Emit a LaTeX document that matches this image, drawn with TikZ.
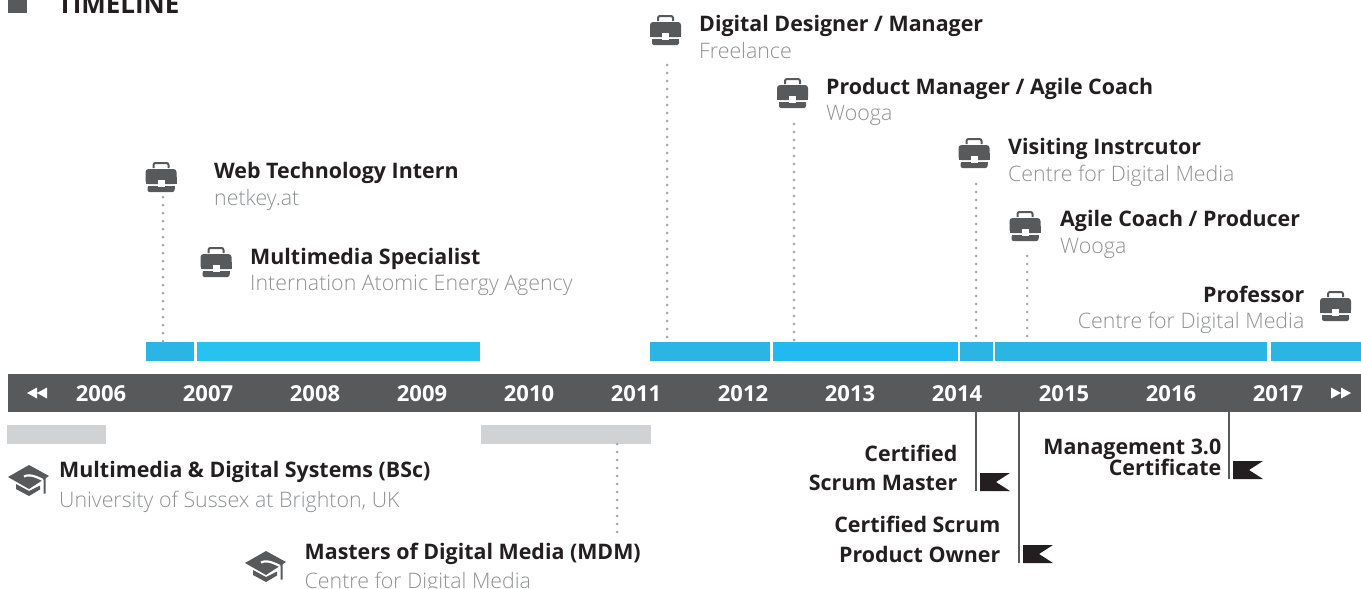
\documentclass[tikz,border=0pt]{standalone}
\usepackage{fontspec}
\setmainfont{Open Sans}
\newfontfamily\lightface{Open Sans Light}
\definecolor{ink}{HTML}{231F20}
\definecolor{slate}{HTML}{58595B}
\definecolor{soft}{HTML}{A7A9AC}
\definecolor{pale}{HTML}{D1D2D4}
\definecolor{blueA}{HTML}{2BB5E5}
\definecolor{blueB}{HTML}{27C3EE}
\definecolor{blueC}{HTML}{22B8F0}
\tikzset{
  x=1pt,y=-1pt,
  head/.style={inner sep=0pt,font=\fontsize{21.4}{21.4}\selectfont\bfseries,text=ink},
  sub/.style={inner sep=0pt,font=\fontsize{21.35}{21.35}\selectfont\lightface,text=soft!85!black},
  yearlabel/.style={inner sep=0pt,anchor=base,font=\fontsize{22}{22}\selectfont\bfseries,text=white},
  span/.style={inner sep=0pt,outer sep=0pt,minimum height=19pt,fill=#1},
  dotline/.style={soft,line width=3pt,line cap=round,dash pattern=on 0pt off 8pt},
  flagline/.style={slate,line width=1.6pt},
  case/.pic={
    \draw[slate,line width=2pt,rounded corners=2pt] (-7.5,-9) -- (-7.5,-14) -- (7.5,-14) -- (7.5,-9);
    \fill[slate,rounded corners=3pt] (-15.5,-8) rectangle (15.5,7);
    \fill[slate] (-15.5,0) rectangle (15.5,7);
    \fill[slate,rounded corners=2pt] (-13.5,9) rectangle (13.5,15);
    \fill[slate] (-13.5,9) rectangle (13.5,12);
    \fill[white] (-3.5,3) rectangle (3.5,10);
  },
  gradcap/.pic={
    \fill[slate] (-21,-3) -- (0,-15) -- (20,-4) -- (0,9) -- cycle;
    \draw[white,line width=2.2pt] (-5,-3.5) .. controls (-1,-6) and (5,-4.5) .. (14,0);
    \fill[slate] (-13,4) -- (0,11) -- (11,5.5) -- (11,9.5) -- (0,16) -- (-13,9) -- cycle;
    \fill[slate] (14.5,-1.5) -- (16.5,-2.5) -- (16.5,13.5) -- (14.5,13.5) -- cycle;
  },
  pennant/.pic={
    \fill[ink] (0,0) -- (30,0) -- (16,9) -- (30,18) -- (0,18) -- cycle;
  },
}
\begin{document}
\begin{tikzpicture}
\useasboundingbox (0,0) rectangle (1361,589);
% heading
\fill[slate] (8,0) rectangle (27,13);
\node[head,anchor=base west,font=\fontsize{26}{26}\selectfont\bfseries] (title) at (57.5,13) {TIMELINE};
% timeline
\node[fill=slate,inner sep=0pt,outer sep=0pt,minimum width=1353pt,minimum height=38pt] (axis) at (684.5,393) {};
\foreach \yr/\xx in {2006/101,2007/208,2008/315,2009/422,2010/529,2011/636,2012/743,2013/850,2014/957,2015/1064,2016/1171,2017/1278}
  \node[yearlabel] (y\yr) at (\xx,401) {\yr};
\fill[white] (27,393) -- (37,387.5) -- (37,398.5) -- cycle (37,393) -- (47,387.5) -- (47,398.5) -- cycle;
\fill[white] (1351,393) -- (1341,387.5) -- (1341,398.5) -- cycle (1341,393) -- (1331,387.5) -- (1331,398.5) -- cycle;
% spans
\node[span=blueA,minimum width=48pt]  (b1) at (170,351.5) {};
\node[span=blueB,minimum width=283pt] (b2) at (338.5,351.5) {};
\node[span=blueA,minimum width=120pt] (b3) at (710,351.5) {};
\node[span=blueC,minimum width=185pt] (b4) at (865.5,351.5) {};
\node[span=blueA,minimum width=33pt]  (b5) at (976.5,351.5) {};
\node[span=blueA,minimum width=272pt] (b6) at (1131,351.5) {};
\node[span=blueA,minimum width=90pt]  (b7) at (1316,351.5) {};
\node[span=pale,minimum width=99pt]  (g1) at (56.5,434.5) {};
\node[span=pale,minimum width=170pt] (g2) at (566,434.5) {};
% dotted connectors
\coordinate (d1) at (163,197);
\coordinate (d3) at (667,65);
\coordinate (d4) at (794,124);
\coordinate (d5) at (976,184);
\coordinate (d6) at (1027,256);
\coordinate (d7) at (617,532);
\draw[dotline] (d1) -- (d1 |- b1.north);
\draw[dotline] (d3) -- (d3 |- b3.north);
\draw[dotline] (d4) -- (d4 |- b4.north);
\draw[dotline] (d5) -- (d5 |- b5.north);
\draw[dotline] (d6) -- (d6 |- b6.north);
\draw[dotline] (d7) -- (d7 |- g2.south);
% icons
\pic at (161,177) {case};
\pic at (216,262) {case};
\pic at (665.5,30) {case};
\pic at (792.5,93) {case};
\pic at (974,153) {case};
\pic at (1025,226) {case};
\pic at (1335.5,306) {case};
\pic at (29,480) {gradcap};
\pic at (266,566) {gradcap};
% job labels
\node[head,anchor=base west] (t1) at (214,178) {Web Technology Intern};
\node[sub,anchor=base west]  (s1) at (214,205) {netkey.at};
\node[head,anchor=base west] (t2) at (250,264) {Multimedia Specialist};
\node[sub,anchor=base west]  (s2) at (250,290) {Internation Atomic Energy Agency};
\node[head,anchor=base west] (t3) at (699,31) {Digital Designer / Manager};
\node[sub,anchor=base west]  (s3) at (699,58) {Freelance};
\node[head,anchor=base west] (t4) at (826,94) {Product Manager / Agile Coach};
\node[sub,anchor=base west]  (s4) at (826,120) {Wooga};
\node[head,anchor=base west] (t5) at (1008,154) {Visiting Instrcutor};
\node[sub,anchor=base west]  (s5) at (1008,181) {Centre for Digital Media};
\node[head,anchor=base west] (t6) at (1060,226) {Agile Coach / Producer};
\node[sub,anchor=base west]  (s6) at (1060,253) {Wooga};
\node[head,anchor=base east] (t7) at (1304.5,302) {Professor};
\node[sub,anchor=base east]  (s7) at (1304.5,328) {Centre for Digital Media};
% education labels
\node[head,anchor=base west] (e1) at (59,477) {Multimedia \& Digital Systems (BSc)};
\node[sub,anchor=base west]  (u1) at (59,507) {University of Sussex at Brighton, UK};
\node[head,anchor=base west] (e2) at (304.5,559) {Masters of Digital Media (MDM)};
\node[sub,anchor=base west]  (u2) at (304.5,588) {Centre for Digital Media};
% certificates
\coordinate (c1) at (976,491);
\coordinate (c2) at (1019,563);
\coordinate (c3) at (1229,479);
\draw[flagline] (c1 |- axis.south) -- (c1);
\draw[flagline] (c2 |- axis.south) -- (c2);
\draw[flagline] (c3 |- axis.south) -- (c3);
\pic at (980,473) {pennant};
\pic at (1023,545) {pennant};
\pic at (1233,461) {pennant};
\node[head,anchor=base east] (k1a) at (957.5,461) {Certified};
\node[head,anchor=base east] (k1b) at (957.5,490) {Scrum Master};
\node[head,anchor=base east] (k2a) at (1000.5,532) {Certified Scrum};
\node[head,anchor=base east] (k2b) at (1000.5,562) {Product Owner};
\node[head,anchor=base east] (k3a) at (1221.5,454) {Management 3.0};
\node[head,anchor=base east] (k3b) at (1221.5,475) {Certificate};
\end{tikzpicture}
\end{document}
